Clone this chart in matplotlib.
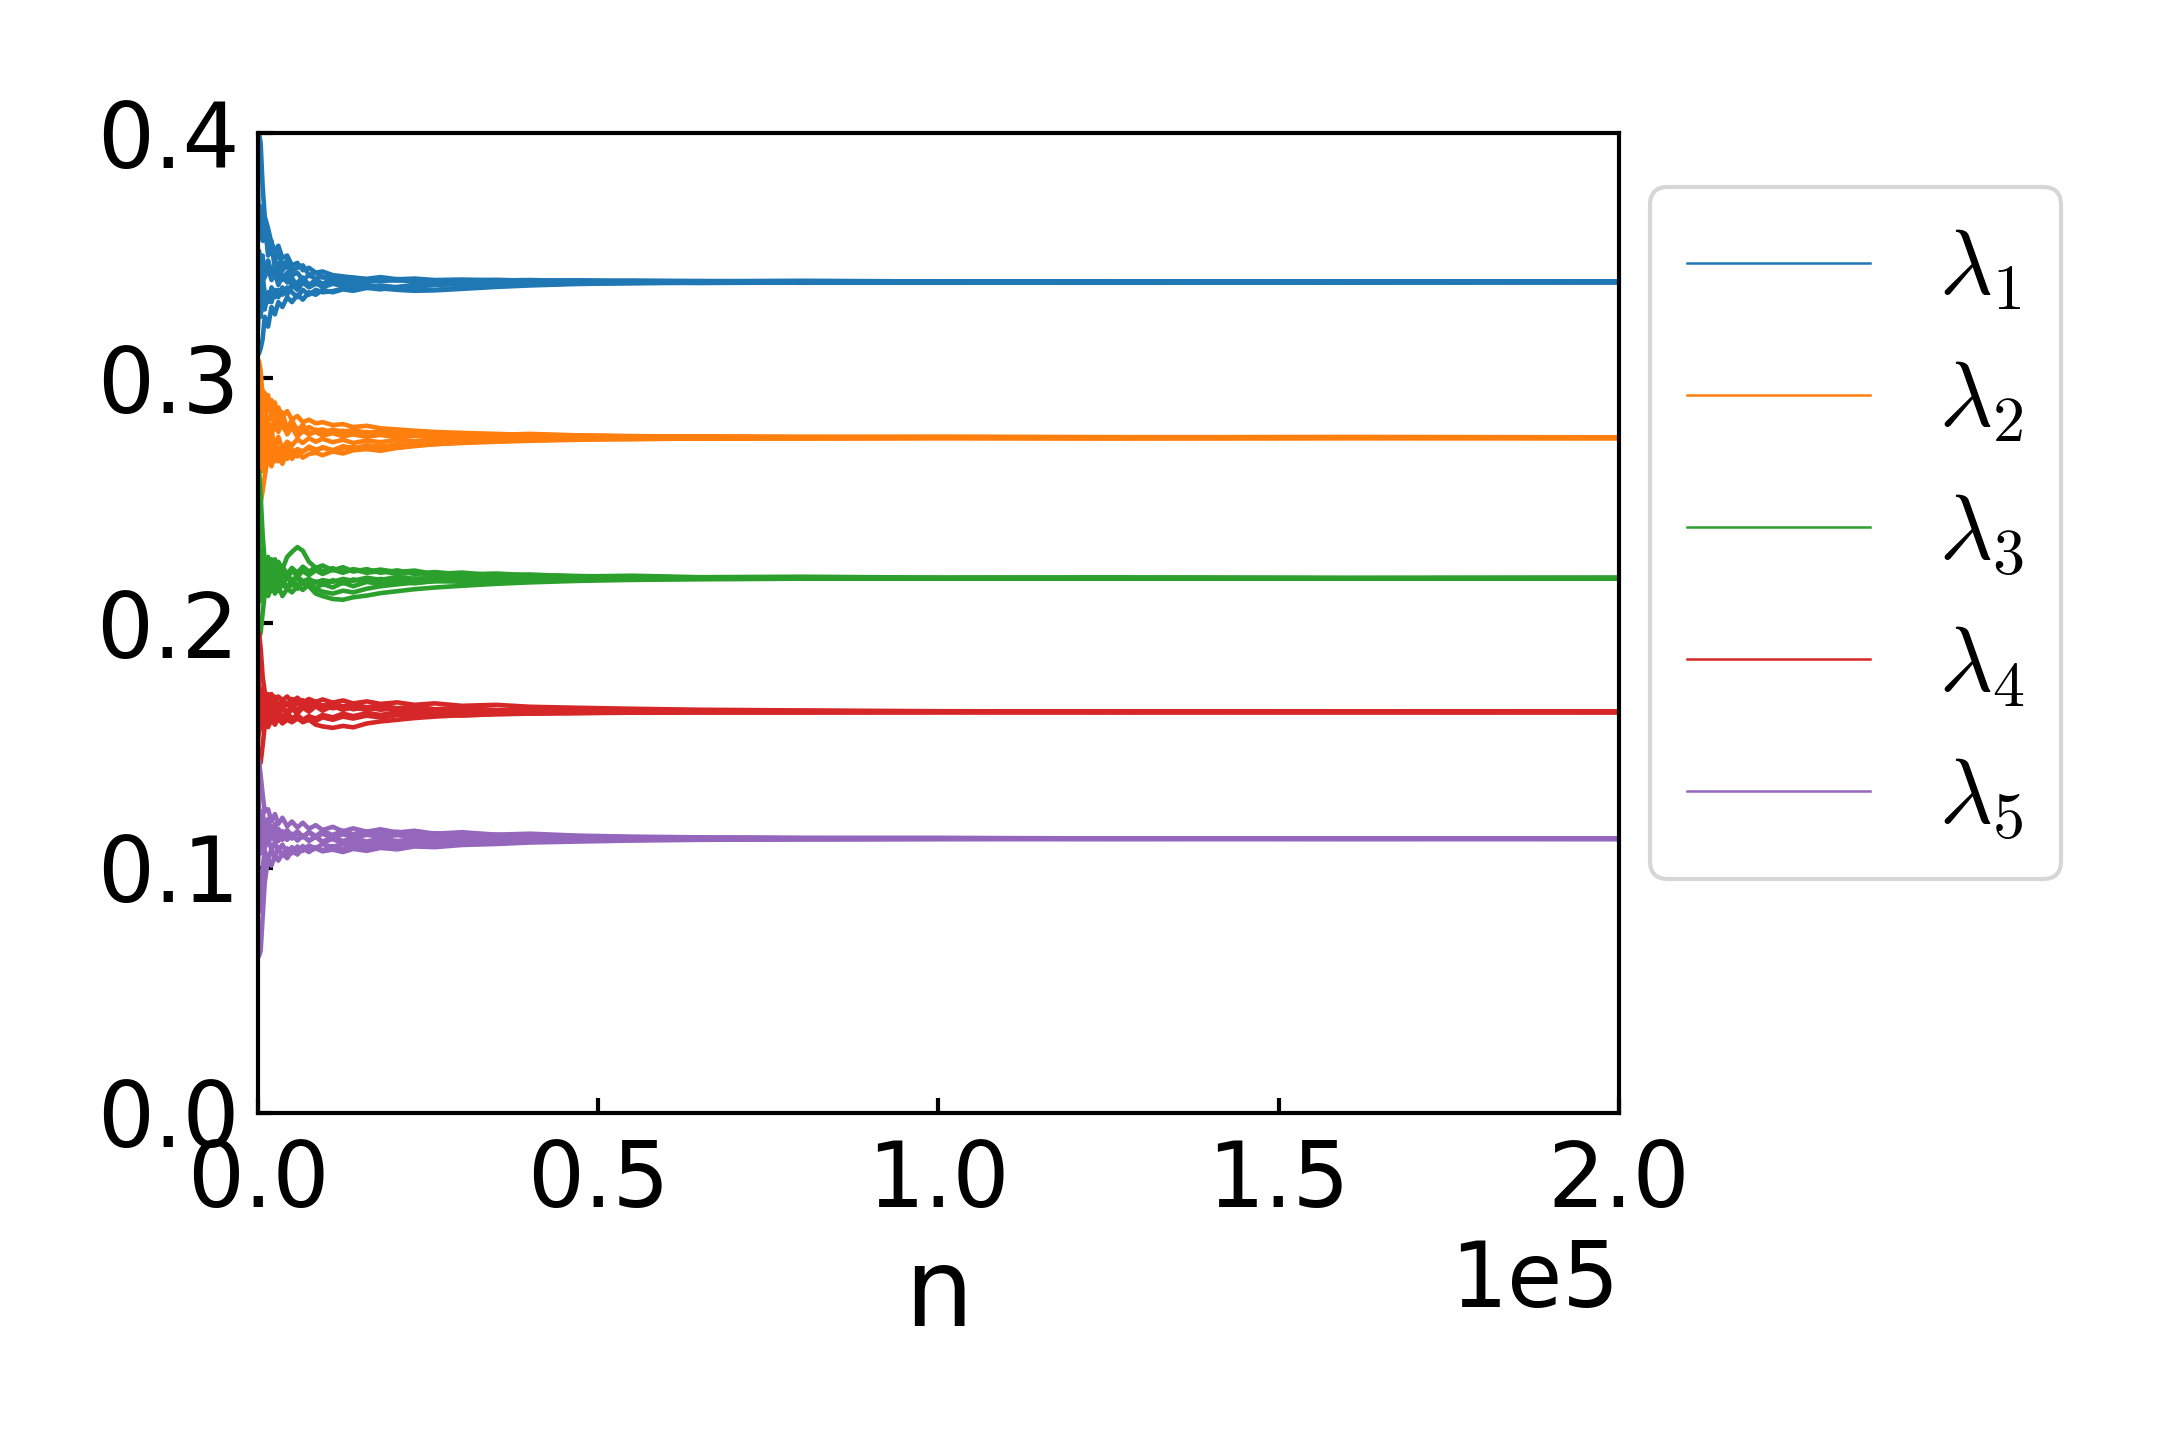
import matplotlib
matplotlib.use("Agg")
import matplotlib.pyplot as plt
from matplotlib.lines import Line2D

plt.rcParams['mathtext.fontset'] = 'cm'

# sample positions along n
n_vals = [0, 150, 400, 700, 1000, 1500, 2000, 2500, 3000, 3600, 4300, 5000, 5800, 6600,
          7500, 8500, 9500, 11000, 12500, 14000, 16000, 18000, 20500, 23000, 26000, 30000,
          35000, 40000, 47000, 55000, 65000, 80000, 100000, 125000, 160000, 200000]

lambda1_runs = [
    [0.400, 0.400, 0.396, 0.378, 0.366, 0.361, 0.355, 0.352, 0.354, 0.349, 0.350, 0.346, 0.347, 0.344, 0.345, 0.343, 0.3435, 0.342, 0.3415, 0.3410, 0.3405, 0.3412, 0.3403, 0.3406, 0.3400, 0.3402, 0.3398, 0.3400, 0.3396, 0.3398, 0.3395, 0.3397, 0.3394, 0.3395, 0.3393, 0.3394],
    [0.360, 0.368, 0.364, 0.356, 0.362, 0.352, 0.356, 0.348, 0.351, 0.346, 0.348, 0.344, 0.345, 0.346, 0.342, 0.343, 0.341, 0.3415, 0.3405, 0.3410, 0.3400, 0.3404, 0.3398, 0.3402, 0.3396, 0.3399, 0.3401, 0.3397, 0.3399, 0.3395, 0.3396, 0.3393, 0.3395, 0.3392, 0.3394, 0.3393],
    [0.340, 0.352, 0.346, 0.350, 0.341, 0.345, 0.340, 0.343, 0.338, 0.342, 0.339, 0.341, 0.337, 0.340, 0.338, 0.3395, 0.337, 0.3385, 0.3375, 0.3380, 0.3372, 0.3378, 0.3370, 0.3376, 0.3380, 0.3384, 0.3388, 0.3386, 0.3390, 0.3388, 0.3391, 0.3389, 0.3391, 0.3390, 0.3392, 0.3391],
    [0.320, 0.330, 0.325, 0.333, 0.328, 0.335, 0.331, 0.336, 0.333, 0.337, 0.334, 0.338, 0.336, 0.339, 0.337, 0.3385, 0.3375, 0.339, 0.3380, 0.3386, 0.3378, 0.3366, 0.3360, 0.3356, 0.3358, 0.3364, 0.3372, 0.3378, 0.3384, 0.3387, 0.3390, 0.3389, 0.3391, 0.3390, 0.3391, 0.3392],
    [0.380, 0.362, 0.370, 0.358, 0.364, 0.350, 0.354, 0.345, 0.347, 0.340, 0.343, 0.337, 0.339, 0.341, 0.338, 0.340, 0.3385, 0.3405, 0.3395, 0.3400, 0.3392, 0.3398, 0.3404, 0.3400, 0.3396, 0.3393, 0.3397, 0.3394, 0.3392, 0.3395, 0.3393, 0.3394, 0.3392, 0.3394, 0.3392, 0.3393],
    [0.310, 0.310, 0.312, 0.316, 0.325, 0.321, 0.329, 0.326, 0.331, 0.329, 0.333, 0.331, 0.334, 0.332, 0.335, 0.334, 0.336, 0.3350, 0.3362, 0.3356, 0.3368, 0.3362, 0.3372, 0.3380, 0.3386, 0.3382, 0.3388, 0.3390, 0.3387, 0.3390, 0.3389, 0.3391, 0.3390, 0.3391, 0.3390, 0.3391],
    [0.350, 0.340, 0.348, 0.338, 0.345, 0.348, 0.343, 0.346, 0.341, 0.344, 0.346, 0.342, 0.343, 0.340, 0.342, 0.3405, 0.3415, 0.3400, 0.3408, 0.3398, 0.3403, 0.3396, 0.3400, 0.3394, 0.3398, 0.3395, 0.3397, 0.3393, 0.3396, 0.3394, 0.3395, 0.3393, 0.3394, 0.3393, 0.3394, 0.3393],
    [0.330, 0.338, 0.332, 0.341, 0.335, 0.331, 0.337, 0.333, 0.336, 0.334, 0.337, 0.335, 0.333, 0.336, 0.334, 0.336, 0.3350, 0.3355, 0.3365, 0.3372, 0.3368, 0.3375, 0.3368, 0.3364, 0.3360, 0.3368, 0.3376, 0.3382, 0.3386, 0.3389, 0.3388, 0.3390, 0.3391, 0.3392, 0.3391, 0.3392],
]

lambda2_runs = [
    [0.307, 0.307, 0.303, 0.292, 0.294, 0.287, 0.291, 0.285, 0.288, 0.284, 0.2865, 0.283, 0.2845, 0.282, 0.2830, 0.2815, 0.2820, 0.2808, 0.2812, 0.2800, 0.2805, 0.2795, 0.2790, 0.2785, 0.2780, 0.2776, 0.2772, 0.2768, 0.2765, 0.2762, 0.2760, 0.2759, 0.2758, 0.2759, 0.2757, 0.2758],
    [0.280, 0.292, 0.284, 0.295, 0.288, 0.293, 0.283, 0.290, 0.281, 0.286, 0.279, 0.283, 0.278, 0.281, 0.277, 0.279, 0.2775, 0.2790, 0.2780, 0.2788, 0.2776, 0.2782, 0.2774, 0.2779, 0.2770, 0.2775, 0.2768, 0.2772, 0.2766, 0.2763, 0.2761, 0.2759, 0.2760, 0.2758, 0.2759, 0.2758],
    [0.250, 0.248, 0.249, 0.254, 0.260, 0.268, 0.264, 0.270, 0.266, 0.269, 0.267, 0.271, 0.268, 0.270, 0.2715, 0.2700, 0.2718, 0.2705, 0.2722, 0.2712, 0.2726, 0.2718, 0.2730, 0.2726, 0.2734, 0.2738, 0.2742, 0.2746, 0.2750, 0.2752, 0.2754, 0.2755, 0.2756, 0.2755, 0.2756, 0.2755],
    [0.270, 0.258, 0.272, 0.262, 0.275, 0.268, 0.278, 0.272, 0.276, 0.271, 0.274, 0.2725, 0.2750, 0.2735, 0.2755, 0.2740, 0.2752, 0.2738, 0.2748, 0.2735, 0.2745, 0.2738, 0.2748, 0.2742, 0.2750, 0.2746, 0.2752, 0.2749, 0.2753, 0.2751, 0.2754, 0.2753, 0.2755, 0.2754, 0.2755, 0.2756],
    [0.300, 0.285, 0.290, 0.278, 0.284, 0.276, 0.281, 0.279, 0.284, 0.280, 0.278, 0.281, 0.2795, 0.2780, 0.2800, 0.2785, 0.2790, 0.2778, 0.2785, 0.2772, 0.2780, 0.2770, 0.2776, 0.2766, 0.2770, 0.2764, 0.2768, 0.2762, 0.2765, 0.2760, 0.2762, 0.2759, 0.2760, 0.2758, 0.2759, 0.2758],
    [0.260, 0.270, 0.264, 0.274, 0.268, 0.265, 0.270, 0.266, 0.271, 0.268, 0.272, 0.269, 0.271, 0.2700, 0.2720, 0.2708, 0.2715, 0.2705, 0.2712, 0.2718, 0.2710, 0.2722, 0.2716, 0.2725, 0.2730, 0.2735, 0.2740, 0.2744, 0.2748, 0.2751, 0.2753, 0.2754, 0.2755, 0.2754, 0.2755, 0.2754],
    [0.290, 0.275, 0.285, 0.280, 0.287, 0.282, 0.276, 0.283, 0.278, 0.282, 0.277, 0.280, 0.276, 0.2785, 0.2770, 0.2780, 0.2765, 0.2775, 0.2762, 0.2770, 0.2760, 0.2768, 0.2758, 0.2764, 0.2760, 0.2765, 0.2759, 0.2762, 0.2758, 0.2760, 0.2757, 0.2759, 0.2757, 0.2758, 0.2757, 0.2758],
    [0.275, 0.288, 0.280, 0.270, 0.279, 0.273, 0.268, 0.274, 0.270, 0.265, 0.270, 0.267, 0.2695, 0.2675, 0.2690, 0.2695, 0.2685, 0.2700, 0.2692, 0.2705, 0.2710, 0.2703, 0.2715, 0.2722, 0.2730, 0.2737, 0.2743, 0.2748, 0.2752, 0.2755, 0.2756, 0.2757, 0.2756, 0.2757, 0.2756, 0.2757],
]

lambda3_runs = [
    [0.262, 0.262, 0.252, 0.236, 0.225, 0.222, 0.226, 0.221, 0.225, 0.222, 0.227, 0.229, 0.231, 0.2295, 0.2250, 0.2225, 0.2235, 0.2215, 0.2228, 0.2210, 0.2220, 0.2205, 0.2215, 0.2200, 0.2208, 0.2198, 0.2202, 0.2195, 0.2192, 0.2188, 0.2186, 0.2185, 0.2184, 0.2185, 0.2183, 0.2184],
    [0.240, 0.228, 0.222, 0.218, 0.224, 0.216, 0.220, 0.214, 0.218, 0.215, 0.219, 0.216, 0.2185, 0.2160, 0.2150, 0.2120, 0.2110, 0.2098, 0.2095, 0.2105, 0.2112, 0.2122, 0.2130, 0.2138, 0.2145, 0.2152, 0.2160, 0.2166, 0.2172, 0.2176, 0.2179, 0.2181, 0.2182, 0.2181, 0.2182, 0.2181],
    [0.210, 0.218, 0.213, 0.220, 0.216, 0.224, 0.219, 0.223, 0.217, 0.221, 0.218, 0.2215, 0.2190, 0.2212, 0.2195, 0.2215, 0.2200, 0.2218, 0.2205, 0.2220, 0.2210, 0.2218, 0.2208, 0.2214, 0.2200, 0.2206, 0.2194, 0.2198, 0.2190, 0.2193, 0.2187, 0.2189, 0.2185, 0.2186, 0.2184, 0.2185],
    [0.195, 0.194, 0.196, 0.204, 0.212, 0.213, 0.217, 0.212, 0.215, 0.211, 0.214, 0.2125, 0.2150, 0.2135, 0.2158, 0.2142, 0.2160, 0.2145, 0.2165, 0.2150, 0.2168, 0.2158, 0.2170, 0.2162, 0.2172, 0.2168, 0.2175, 0.2172, 0.2178, 0.2179, 0.2180, 0.2181, 0.2182, 0.2181, 0.2182, 0.2182],
    [0.250, 0.232, 0.226, 0.230, 0.222, 0.227, 0.221, 0.226, 0.219, 0.223, 0.220, 0.2225, 0.2205, 0.2230, 0.2210, 0.2228, 0.2212, 0.2224, 0.2208, 0.2218, 0.2205, 0.2212, 0.2200, 0.2206, 0.2196, 0.2200, 0.2192, 0.2195, 0.2189, 0.2187, 0.2185, 0.2186, 0.2184, 0.2184, 0.2183, 0.2184],
    [0.225, 0.214, 0.220, 0.212, 0.216, 0.211, 0.215, 0.218, 0.213, 0.217, 0.2135, 0.2160, 0.2140, 0.2165, 0.2150, 0.2170, 0.2155, 0.2175, 0.2162, 0.2178, 0.2168, 0.2180, 0.2172, 0.2182, 0.2176, 0.2184, 0.2180, 0.2186, 0.2183, 0.2185, 0.2183, 0.2184, 0.2183, 0.2184, 0.2183, 0.2183],
    [0.230, 0.220, 0.226, 0.218, 0.221, 0.218, 0.222, 0.219, 0.2205, 0.2180, 0.2195, 0.2175, 0.2190, 0.2170, 0.2180, 0.2165, 0.2175, 0.2168, 0.2180, 0.2172, 0.2185, 0.2176, 0.2188, 0.2180, 0.2186, 0.2182, 0.2185, 0.2182, 0.2184, 0.2182, 0.2183, 0.2182, 0.2183, 0.2182, 0.2183, 0.2182],
    [0.205, 0.215, 0.209, 0.214, 0.212, 0.216, 0.213, 0.217, 0.214, 0.2165, 0.2150, 0.2170, 0.2155, 0.2172, 0.2160, 0.2140, 0.2128, 0.2120, 0.2132, 0.2125, 0.2140, 0.2150, 0.2158, 0.2165, 0.2170, 0.2174, 0.2177, 0.2179, 0.2180, 0.2181, 0.2182, 0.2181, 0.2182, 0.2181, 0.2182, 0.2181],
]

lambda4_runs = [
    [0.196, 0.196, 0.190, 0.178, 0.172, 0.168, 0.171, 0.167, 0.170, 0.1685, 0.1700, 0.1680, 0.1695, 0.1675, 0.1690, 0.1678, 0.1688, 0.1675, 0.1684, 0.1672, 0.1680, 0.1670, 0.1676, 0.1666, 0.1672, 0.1662, 0.1666, 0.1658, 0.1654, 0.1650, 0.1646, 0.1643, 0.1640, 0.1639, 0.1638, 0.1639],
    [0.185, 0.172, 0.166, 0.169, 0.164, 0.168, 0.163, 0.167, 0.162, 0.1660, 0.1635, 0.1665, 0.1645, 0.1670, 0.1650, 0.1668, 0.1655, 0.1672, 0.1660, 0.1668, 0.1656, 0.1664, 0.1652, 0.1660, 0.1648, 0.1654, 0.1644, 0.1648, 0.1640, 0.1643, 0.1639, 0.1641, 0.1638, 0.1639, 0.1637, 0.1638],
    [0.170, 0.160, 0.165, 0.158, 0.162, 0.159, 0.164, 0.160, 0.163, 0.1595, 0.1620, 0.1600, 0.1615, 0.1595, 0.1605, 0.1585, 0.1578, 0.1572, 0.1580, 0.1574, 0.1590, 0.1598, 0.1605, 0.1612, 0.1618, 0.1624, 0.1628, 0.1631, 0.1633, 0.1635, 0.1636, 0.1636, 0.1637, 0.1636, 0.1637, 0.1636],
    [0.150, 0.158, 0.163, 0.160, 0.166, 0.161, 0.165, 0.162, 0.1645, 0.1615, 0.1635, 0.1610, 0.1625, 0.1605, 0.1620, 0.1610, 0.1625, 0.1615, 0.1630, 0.1620, 0.1632, 0.1625, 0.1634, 0.1628, 0.1636, 0.1630, 0.1635, 0.1632, 0.1636, 0.1634, 0.1636, 0.1635, 0.1636, 0.1635, 0.1636, 0.1635],
    [0.178, 0.168, 0.172, 0.165, 0.169, 0.164, 0.168, 0.1645, 0.1670, 0.1650, 0.1675, 0.1655, 0.1678, 0.1660, 0.1672, 0.1658, 0.1665, 0.1652, 0.1660, 0.1648, 0.1656, 0.1646, 0.1652, 0.1644, 0.1648, 0.1641, 0.1645, 0.1640, 0.1642, 0.1639, 0.1640, 0.1638, 0.1639, 0.1638, 0.1638, 0.1637],
    [0.160, 0.155, 0.161, 0.157, 0.1595, 0.1575, 0.1605, 0.1585, 0.1610, 0.1590, 0.1605, 0.1595, 0.1610, 0.1598, 0.1612, 0.1600, 0.1615, 0.1605, 0.1618, 0.1610, 0.1622, 0.1614, 0.1624, 0.1618, 0.1626, 0.1622, 0.1628, 0.1630, 0.1632, 0.1634, 0.1635, 0.1636, 0.1636, 0.1637, 0.1636, 0.1637],
    [0.144, 0.142, 0.143, 0.150, 0.158, 0.165, 0.162, 0.166, 0.163, 0.1655, 0.1625, 0.1650, 0.1630, 0.1655, 0.1638, 0.1660, 0.1642, 0.1662, 0.1645, 0.1658, 0.1644, 0.1655, 0.1642, 0.1650, 0.1640, 0.1646, 0.1638, 0.1642, 0.1638, 0.1640, 0.1637, 0.1638, 0.1637, 0.1638, 0.1637, 0.1638],
    [0.165, 0.175, 0.169, 0.173, 0.167, 0.171, 0.166, 0.170, 0.1655, 0.1685, 0.1665, 0.1690, 0.1670, 0.1685, 0.1665, 0.1680, 0.1660, 0.1675, 0.1655, 0.1668, 0.1650, 0.1662, 0.1648, 0.1656, 0.1645, 0.1650, 0.1643, 0.1646, 0.1641, 0.1643, 0.1639, 0.1640, 0.1638, 0.1639, 0.1638, 0.1639],
]

lambda5_runs = [
    [0.144, 0.144, 0.138, 0.130, 0.123, 0.124, 0.119, 0.122, 0.1180, 0.1205, 0.1170, 0.1190, 0.1165, 0.1185, 0.1160, 0.1175, 0.1155, 0.1168, 0.1150, 0.1162, 0.1148, 0.1158, 0.1145, 0.1152, 0.1140, 0.1146, 0.1136, 0.1140, 0.1132, 0.1128, 0.1125, 0.1123, 0.1122, 0.1121, 0.1120, 0.1121],
    [0.064, 0.064, 0.066, 0.080, 0.094, 0.104, 0.101, 0.105, 0.1030, 0.1060, 0.1040, 0.1070, 0.1055, 0.1080, 0.1065, 0.1085, 0.1072, 0.1090, 0.1078, 0.1095, 0.1085, 0.1098, 0.1092, 0.1102, 0.1098, 0.1106, 0.1104, 0.1110, 0.1112, 0.1115, 0.1117, 0.1118, 0.1119, 0.1118, 0.1119, 0.1118],
    [0.120, 0.110, 0.116, 0.108, 0.114, 0.110, 0.115, 0.111, 0.1145, 0.1115, 0.1140, 0.1120, 0.1145, 0.1125, 0.1148, 0.1130, 0.1150, 0.1135, 0.1152, 0.1138, 0.1150, 0.1140, 0.1148, 0.1135, 0.1142, 0.1132, 0.1136, 0.1128, 0.1130, 0.1125, 0.1124, 0.1122, 0.1122, 0.1121, 0.1121, 0.1120],
    [0.100, 0.112, 0.106, 0.113, 0.108, 0.112, 0.1075, 0.1105, 0.1070, 0.1095, 0.1060, 0.1085, 0.1065, 0.1090, 0.1070, 0.1080, 0.1068, 0.1075, 0.1065, 0.1078, 0.1070, 0.1082, 0.1076, 0.1088, 0.1085, 0.1094, 0.1098, 0.1104, 0.1108, 0.1112, 0.1115, 0.1117, 0.1118, 0.1119, 0.1118, 0.1119],
    [0.130, 0.118, 0.123, 0.115, 0.119, 0.113, 0.117, 0.1125, 0.1160, 0.1135, 0.1155, 0.1130, 0.1150, 0.1128, 0.1145, 0.1125, 0.1140, 0.1122, 0.1138, 0.1125, 0.1135, 0.1128, 0.1134, 0.1126, 0.1130, 0.1124, 0.1128, 0.1122, 0.1125, 0.1121, 0.1123, 0.1121, 0.1122, 0.1120, 0.1121, 0.1120],
    [0.085, 0.082, 0.090, 0.100, 0.107, 0.103, 0.108, 0.104, 0.1085, 0.1050, 0.1080, 0.1060, 0.1088, 0.1070, 0.1092, 0.1080, 0.1098, 0.1085, 0.1100, 0.1090, 0.1102, 0.1095, 0.1105, 0.1100, 0.1108, 0.1104, 0.1110, 0.1108, 0.1113, 0.1115, 0.1117, 0.1118, 0.1119, 0.1120, 0.1119, 0.1120],
    [0.110, 0.122, 0.115, 0.120, 0.113, 0.118, 0.112, 0.116, 0.1110, 0.1140, 0.1115, 0.1138, 0.1112, 0.1132, 0.1110, 0.1128, 0.1108, 0.1125, 0.1110, 0.1122, 0.1108, 0.1120, 0.1110, 0.1118, 0.1112, 0.1118, 0.1114, 0.1118, 0.1116, 0.1118, 0.1119, 0.1120, 0.1120, 0.1121, 0.1120, 0.1121],
    [0.138, 0.125, 0.118, 0.123, 0.116, 0.120, 0.114, 0.118, 0.1125, 0.1150, 0.1120, 0.1140, 0.1115, 0.1132, 0.1112, 0.1128, 0.1105, 0.1118, 0.1100, 0.1112, 0.1098, 0.1108, 0.1100, 0.1110, 0.1106, 0.1112, 0.1110, 0.1115, 0.1114, 0.1116, 0.1118, 0.1119, 0.1120, 0.1119, 0.1120, 0.1119],
]

series_labels = [r'$\lambda_1$', r'$\lambda_2$', r'$\lambda_3$', r'$\lambda_4$', r'$\lambda_5$']
series_colors = ['#1f77b4', '#ff7f0e', '#2ca02c', '#d62728', '#9467bd']
all_runs = [lambda1_runs, lambda2_runs, lambda3_runs, lambda4_runs, lambda5_runs]

fig = plt.figure(figsize=(7.2, 4.8), dpi=300)
ax = fig.add_axes([0.1194, 0.2271, 0.6301, 0.6805])

for runs, color in zip(all_runs, series_colors):
    for run in runs:
        m = min(len(run), len(n_vals))
        ax.plot(n_vals[:m], run[:m], color=color, lw=1.1)

ax.set_xlim(0, 200000)
ax.set_ylim(0, 0.4)
ax.set_xticks([0, 50000, 100000, 150000, 200000])
ax.set_yticks([0.0, 0.1, 0.2, 0.3, 0.4])
ax.ticklabel_format(axis='x', style='sci', scilimits=(0, 0))
ax.tick_params(direction='in', labelsize=21.5, width=1.0, length=3.5)
ax.tick_params(axis='x', pad=6)
ax.tick_params(axis='y', pad=4.5)
ax.xaxis.get_offset_text().set_fontsize(21.5)
for s in ax.spines.values():
    s.set_linewidth(1.0)
ax.set_xlabel('n', fontsize=26, labelpad=4)

handles = [Line2D([0], [0], color=c, lw=0.6) for c in series_colors]
fig.legend(handles, series_labels, loc='upper left',
           bbox_to_anchor=(0.7639, 0.8701), borderaxespad=0,
           fontsize=22, handlelength=2.0, handletextpad=0.75, labelspacing=0.46)

fig.savefig('out.png', dpi=300)
